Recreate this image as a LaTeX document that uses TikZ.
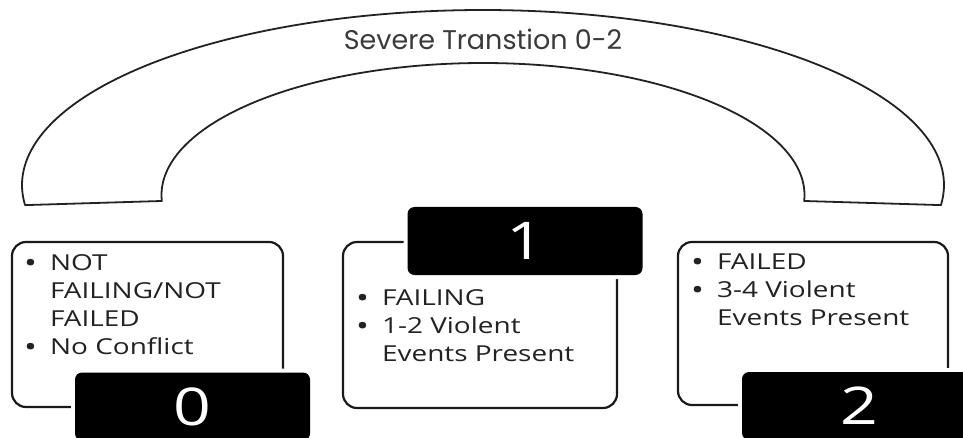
\documentclass[tikz,border=0pt]{standalone}
\usepackage{fontspec}
\setmainfont{Open Sans}
\newfontfamily\titlefont{Poppins}
\newfontfamily\boxfont[FakeStretch=1.27]{Open Sans}
\definecolor{inkgray}{HTML}{222222}
\definecolor{titlegray}{HTML}{3A3A3A}
\tikzset{
  archline/.style={draw=inkgray, line width=1.8pt, line join=round},
  statebox/.style={draw=black!90, line width=2.2pt, rounded corners=14pt, fill=white, inner sep=0pt},
  numbox/.style={fill=black, rounded corners=7pt, minimum width=235pt, minimum height=68pt, inner sep=0pt,
    preaction={draw=white, line width=8pt}, text=white, font=\boxfont\fontsize{52}{52}\selectfont},
  bullettext/.style={anchor=base west, inner sep=0pt, text=inkgray, font=\boxfont\fontsize{22}{28}\selectfont},
}
\newcommand{\bul}{\raisebox{-2pt}{\fontsize{27}{28}\selectfont •}}
\newcommand{\bulletlist}[1]{\begin{tabular}[t]{@{}l@{\hspace{13pt}}l@{}}#1\end{tabular}}
\begin{document}
\begin{tikzpicture}[x=1pt,y=-1pt]
\useasboundingbox (0,0) rectangle (963,438);
% arch
\draw[archline] plot[domain=186.6:-6.6, samples=150] ({483+461*cos(\x)},{185-175*sin(\x)})
  -- plot[domain=-2.6:182.6, samples=150] ({483+321.5*cos(\x)},{195-132*sin(\x)}) -- cycle;
\node[anchor=base, inner sep=0pt, text=titlegray, font=\titlefont\fontsize{27}{27}\selectfont] (title) at (483,50) {Severe Transtion 0-2};
% white boxes
\node[statebox, minimum width=271pt, minimum height=165pt] (box0) at (147.5,324.5) {};
\node[statebox, minimum width=274pt, minimum height=166pt] (box1) at (480,325) {};
\node[statebox, minimum width=270pt, minimum height=163pt] (box2) at (813,323.5) {};
% texts
\node[bullettext] (t0) at (24,270.5) {\bulletlist{\bul&NOT\\&FAILING/NOT\\&FAILED\\\bul&No Conflict}};
\node[bullettext] (t1) at (356,305.5) {\bulletlist{\bul&FAILING\\\bul&1-2 Violent\\&Events Present}};
\node[bullettext] (t2) at (691,269.5) {\bulletlist{\bul&FAILED\\\bul&3-4 Violent\\&Events Present}};
% number boxes
\node[numbox] (n0) at (192.5,406.5) {0};
\node[numbox] (n1) at (525,241) {1};
\node[numbox] (n2) at (859.5,406) {2};
\end{tikzpicture}
\end{document}
